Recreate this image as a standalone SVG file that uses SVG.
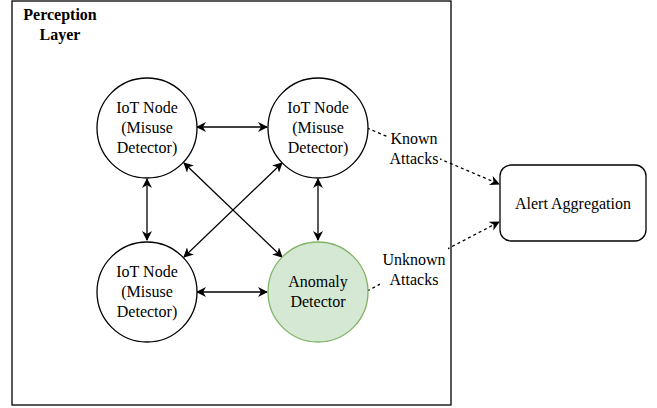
<svg xmlns="http://www.w3.org/2000/svg" width="657" height="408" viewBox="0 0 657 408">
<style>
text{font-family:"Liberation Serif","Times New Roman",serif;font-size:16px;fill:#000}
.node{fill:#fff;stroke:#000;stroke-width:1.3}
.green{fill:#d5e8d4;stroke:#82b366;stroke-width:1.3}
.edge{stroke:#000;stroke-width:1.3;fill:none}
.dash{stroke-dasharray:3,3}
.lbl{fill:#fff;stroke:none}
</style>
<defs>
<marker id="ah" viewBox="0 0 10 10" refX="9" refY="5" markerWidth="10" markerHeight="10" markerUnits="userSpaceOnUse" orient="auto-start-reverse">
<path d="M0,0 L10,5 L0,10 L3,5 Z" fill="#000"/>
</marker>
</defs>
<rect width="657" height="408" fill="#fff"/>
<g id="perception-layer">
<rect x="12" y="1" width="439" height="404" fill="#fff" stroke="#000" stroke-width="1.3"/>
<text x="60" y="20" text-anchor="middle" font-weight="bold">Perception</text>
<text x="60" y="40" text-anchor="middle" font-weight="bold">Layer</text>
</g>
<g id="connectors">
<line class="edge" x1="197" y1="127" x2="267" y2="127" marker-start="url(#ah)" marker-end="url(#ah)"/>
<line class="edge" x1="197" y1="292" x2="267" y2="292" marker-start="url(#ah)" marker-end="url(#ah)"/>
<line class="edge" x1="147" y1="179" x2="147" y2="240" marker-start="url(#ah)" marker-end="url(#ah)"/>
<line class="edge" x1="318" y1="179" x2="318" y2="240" marker-start="url(#ah)" marker-end="url(#ah)"/>
<line class="edge" x1="184" y1="163" x2="282" y2="257" marker-start="url(#ah)" marker-end="url(#ah)"/>
<line class="edge" x1="282" y1="163" x2="184" y2="257" marker-start="url(#ah)" marker-end="url(#ah)"/>
<line class="edge dash" x1="367" y1="128" x2="499" y2="184" marker-end="url(#ah)"/>
<line class="edge dash" x1="367" y1="291" x2="499" y2="222" marker-end="url(#ah)"/>
<rect class="lbl" x="388" y="127" width="52" height="38"/>
<text x="414" y="144" text-anchor="middle">Known</text>
<text x="414" y="164" text-anchor="middle">Attacks</text>
<rect class="lbl" x="380" y="248" width="68" height="38"/>
<text x="414" y="265" text-anchor="middle">Unknown</text>
<text x="414" y="285" text-anchor="middle">Attacks</text>
</g>
<g id="iot-node-tl">
<circle class="node" cx="147" cy="128" r="50"/>
<text x="147" y="113" text-anchor="middle">IoT Node</text>
<text x="147" y="133" text-anchor="middle">(Misuse</text>
<text x="147" y="153" text-anchor="middle">Detector)</text>
</g>
<g id="iot-node-tr">
<circle class="node" cx="318" cy="128" r="50"/>
<text x="318" y="113" text-anchor="middle">IoT Node</text>
<text x="318" y="133" text-anchor="middle">(Misuse</text>
<text x="318" y="153" text-anchor="middle">Detector)</text>
</g>
<g id="iot-node-bl">
<circle class="node" cx="147" cy="292" r="50"/>
<text x="147" y="277" text-anchor="middle">IoT Node</text>
<text x="147" y="297" text-anchor="middle">(Misuse</text>
<text x="147" y="317" text-anchor="middle">Detector)</text>
</g>
<g id="anomaly-detector">
<circle class="green" cx="318" cy="292" r="50"/>
<text x="318" y="287" text-anchor="middle">Anomaly</text>
<text x="318" y="307" text-anchor="middle">Detector</text>
</g>
<g id="alert-aggregation">
<rect class="node" x="500" y="165" width="146" height="76" rx="11"/>
<text x="573" y="209" text-anchor="middle">Alert Aggregation</text>
</g>
</svg>
